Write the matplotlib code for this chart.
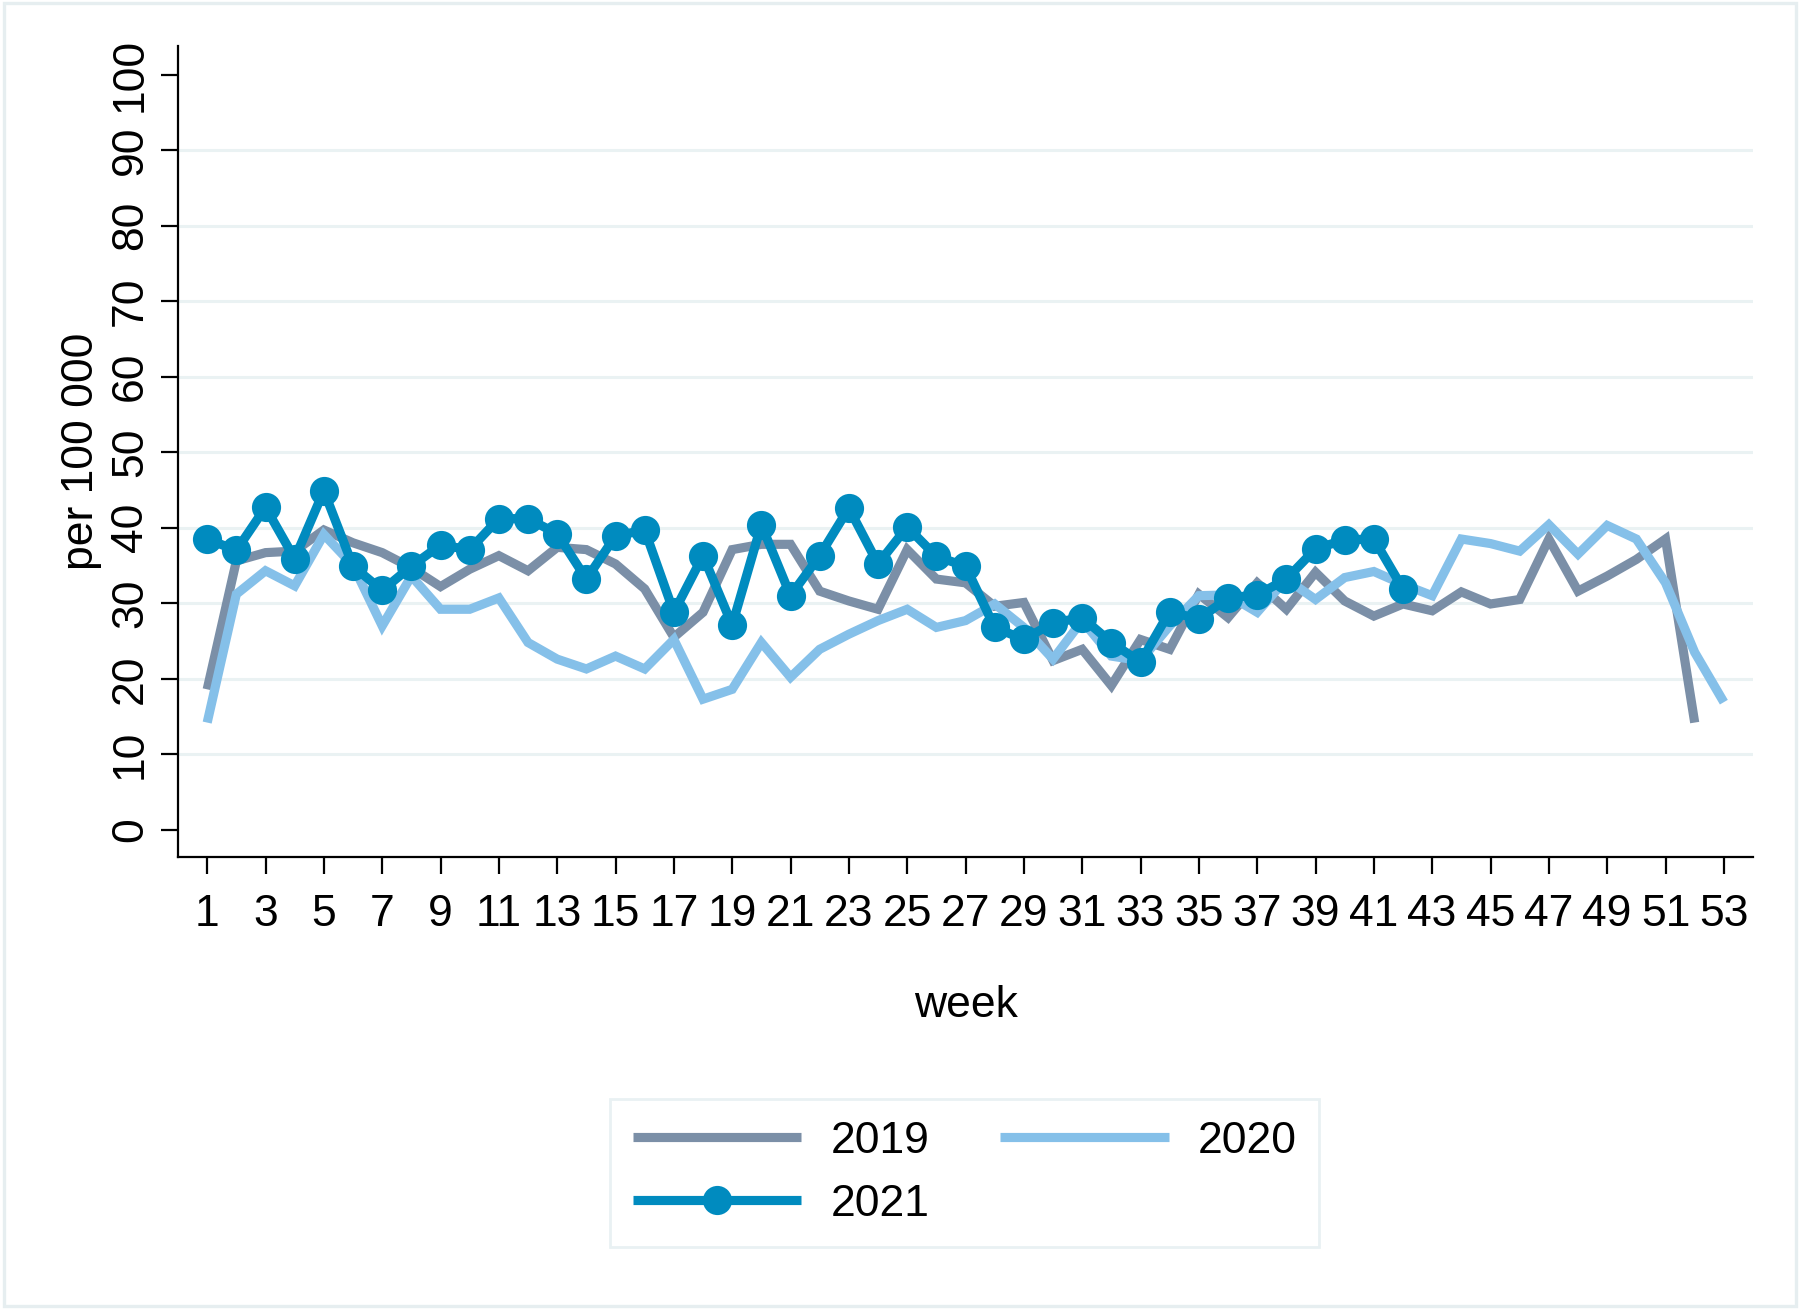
import numpy as np
import matplotlib.pyplot as plt
from matplotlib.patches import Rectangle

plt.rcParams['font.family'] = ['Liberation Sans', 'DejaVu Sans']

# weekly rates per 100 000
y2019 = [18.6, 35.6, 36.7, 36.9, 39.7, 38.0, 36.7, 34.7, 32.2, 34.5,
         36.3, 34.3, 37.4, 37.1, 35.2, 31.9, 25.5, 28.8, 37.1, 37.8,
         37.8, 31.6, 30.3, 29.2, 37.1, 33.2, 32.7, 29.6, 30.1, 22.4,
         23.9, 19.1, 25.2, 23.9, 31.2, 28.1, 32.7, 29.2, 34.1, 30.3,
         28.3, 29.9, 29.0, 31.5, 29.9, 30.5, 38.5, 31.6, 33.6, 35.8,
         38.5, 14.2]
y2020 = [14.2, 31.2, 34.3, 32.3, 39.1, 35.0, 27.0, 33.6, 29.2, 29.2,
         30.7, 24.8, 22.6, 21.3, 23.0, 21.3, 25.2, 17.3, 18.6, 24.8,
         20.2, 23.9, 25.9, 27.7, 29.2, 26.8, 27.7, 29.9, 26.8, 22.6,
         27.7, 23.0, 22.4, 27.0, 31.0, 31.1, 28.8, 33.2, 30.5, 33.4,
         34.2, 32.5, 31.0, 38.5, 37.9, 36.9, 40.4, 36.5, 40.3, 38.5,
         32.7, 23.5, 16.9]
y2021 = [38.5, 37.0, 42.7, 35.9, 44.9, 34.9, 31.7, 34.9, 37.7, 37.1,
         41.2, 41.2, 39.2, 33.2, 38.9, 39.7, 28.8, 36.3, 27.1, 40.4,
         31.0, 36.3, 42.6, 35.2, 40.1, 36.2, 34.9, 26.8, 25.2, 27.4,
         28.1, 24.8, 22.2, 28.9, 27.9, 30.7, 31.1, 33.2, 37.2, 38.4,
         38.5, 31.9]

c2019 = '#7b8fa7'
c2020 = '#85c0e9'
c2021 = '#008bbf'

fig = plt.figure(figsize=(9, 6.545), dpi=200)
ax = fig.add_axes([0.0989, 0.345, 0.875, 0.62])

lw = 3.3
l19, = ax.plot(np.arange(1, len(y2019) + 1), y2019, color=c2019, lw=lw,
               solid_joinstyle='miter', solid_capstyle='butt', label='2019')
l20, = ax.plot(np.arange(1, len(y2020) + 1), y2020, color=c2020, lw=lw,
               solid_joinstyle='miter', solid_capstyle='butt', label='2020')
l21, = ax.plot(np.arange(1, len(y2021) + 1), y2021, color=c2021, lw=lw,
               marker='o', ms=9.5, solid_capstyle='butt', label='2021')

ax.set_xlim(0, 54)
ax.set_ylim(-3.65, 103.8)
ax.set_xticks(np.arange(1, 54, 2))
ax.set_yticks(np.arange(0, 101, 10))
for v in range(10, 100, 10):
    ax.axhline(v, color='#eaf2f3', lw=1.1, zorder=0)

ax.spines['top'].set_visible(False)
ax.spines['right'].set_visible(False)
ax.spines['left'].set_linewidth(0.8)
ax.spines['bottom'].set_linewidth(0.8)
ax.tick_params(axis='both', labelsize=16, width=0.8, length=6.2, color='black')
ax.tick_params(axis='x', pad=7)
ax.tick_params(axis='y', pad=3.5)
for lab in ax.get_yticklabels():
    lab.set_rotation(90)
    lab.set_va('center')

ax.set_xlabel('week', fontsize=16, labelpad=18)
ax.set_ylabel('per 100 000', fontsize=16, labelpad=3)

leg = fig.legend(handles=[l19, l21, l20], ncol=2, loc='center',
                 bbox_to_anchor=(0.536, 0.104), fontsize=16, frameon=True,
                 fancybox=False, edgecolor='#e4eef0', handlelength=3.8,
                 columnspacing=1.6, borderpad=0.5, labelspacing=0.5,
                 handletextpad=0.65)
leg.get_frame().set_linewidth(1.0)

fig.patches.append(Rectangle((0.002, 0.002), 0.996, 0.996, transform=fig.transFigure,
                             fill=False, edgecolor='#e6eef0', lw=1.2))

fig.savefig('out.png', dpi=200)
